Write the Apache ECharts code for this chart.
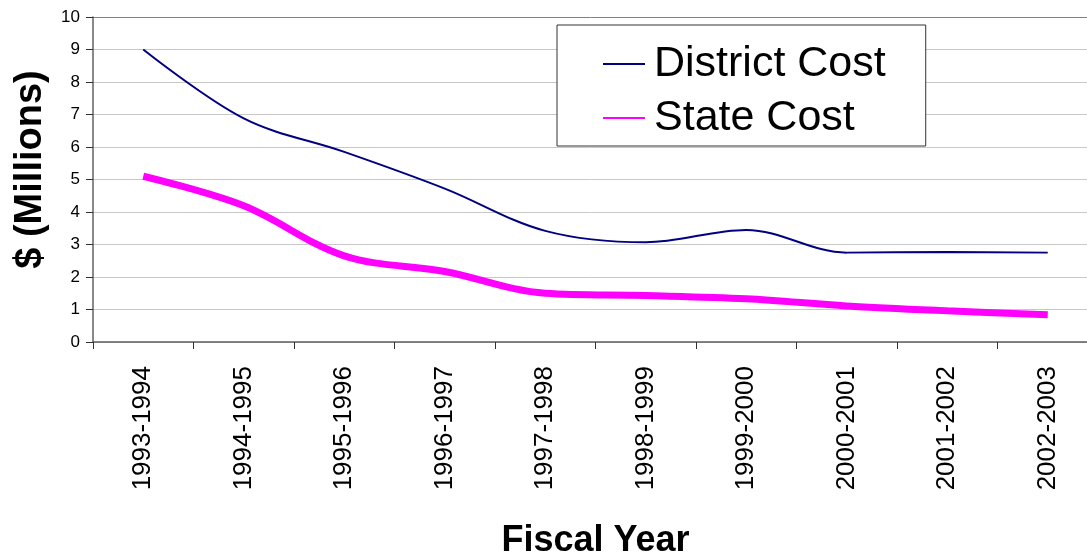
<!DOCTYPE html>
<html>
<head>
<meta charset="utf-8">
<script src="https://cdn.jsdelivr.net/npm/echarts@6/dist/echarts.min.js"></script>
<style>
html,body{margin:0;padding:0;background:#fff;overflow:hidden;}
#chart{width:1087px;height:558px;}
</style>
</head>
<body>
<div id="chart"></div>
<script>
const categories = ['1993-1994','1994-1995','1995-1996','1996-1997','1997-1998','1998-1999','1999-2000','2000-2001','2001-2002','2002-2003'];
const districtCost = [9.0, 6.88, 5.85, 4.72, 3.42, 3.07, 3.45, 2.75, 2.77, 2.75];
const stateCost = [5.1, 4.19, 2.65, 2.17, 1.5, 1.43, 1.33, 1.11, 0.96, 0.84];
const yTicks = [0,1,2,3,4,5,6,7,8,9,10];

const FONT = "'Liberation Sans', Arial, sans-serif";
const chart = echarts.init(document.getElementById('chart'));
const gridColors = yTicks.map((v, i) => i === yTicks.length - 1 ? '#808080' : '#c8c8c8');

chart.setOption({
  animation: false,
  backgroundColor: '#fff',
  textStyle: {fontFamily: FONT},
  grid: {left: 93, top: 17, width: 1005, height: 325, containLabel: false, outerBoundsMode: 'none'},
  legend: {
    orient: 'vertical',
    left: 557, top: 25,
    padding: [15, 40, 4, 45],
    borderColor: '#333', borderWidth: 1,
    backgroundColor: '#fff',
    itemWidth: 42, itemHeight: 14, itemGap: 6,
    itemStyle: {opacity: 0},
    textStyle: {fontFamily: FONT, fontSize: 43, color: '#000', lineHeight: 48, padding: [0,0,0,4]},
    data: ['District Cost', 'State Cost']
  },
  xAxis: {
    type: 'category',
    data: categories,
    boundaryGap: true,
    name: 'Fiscal Year',
    nameLocation: 'middle',
    nameGap: 181,
    nameTextStyle: {fontFamily: FONT, fontSize: 36, fontWeight: 'bold', color: '#000'},
    axisLine: {lineStyle: {color: '#606060', width: 1.5}},
    axisTick: {show: true, length: 7, lineStyle: {color: '#303030'}},
    axisLabel: {rotate: 90, fontSize: 26, color: '#000', margin: 24, fontFamily: FONT}
  },
  yAxis: {
    type: 'value',
    min: yTicks[0], max: yTicks[yTicks.length - 1], interval: 1,
    name: '$ (Millions)',
    nameLocation: 'middle',
    nameGap: 43,
    nameRotate: 90,
    nameTextStyle: {fontFamily: FONT, fontSize: 38, fontWeight: 'bold', color: '#000', padding: [0,0,0,20]},
    axisLine: {show: true, lineStyle: {color: '#606060', width: 1.5}},
    axisTick: {show: true, length: 7, lineStyle: {color: '#303030'}},
    axisLabel: {fontSize: 17, color: '#000', margin: 13, fontFamily: FONT},
    splitLine: {show: true, lineStyle: {color: gridColors, width: 1}}
  },
  series: [
    {
      name: 'District Cost', type: 'line', data: districtCost,
      smooth: 0.35, symbol: 'none',
      lineStyle: {color: '#000080', width: 2},
      itemStyle: {color: '#000080'}
    },
    {
      name: 'State Cost', type: 'line', data: stateCost,
      smooth: 0.35, symbol: 'none',
      lineStyle: {color: '#ff00ff', width: 7},
      itemStyle: {color: '#ff00ff'}
    }
  ]
});
</script>
</body>
</html>
